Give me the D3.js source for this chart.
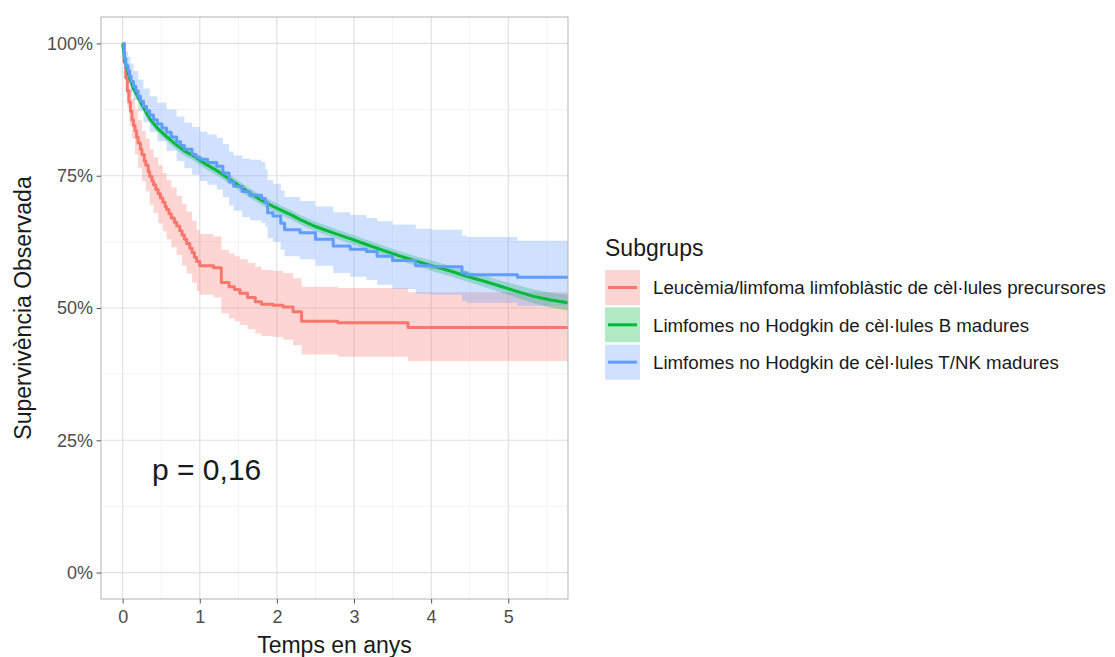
<!DOCTYPE html>
<html>
<head>
<meta charset="utf-8">
<script src="https://cdn.jsdelivr.net/npm/d3@7"></script>
<style>
  body { margin: 0; background: #fff; }
  svg { font-family: "Liberation Sans", Arial, sans-serif; }
</style>
</head>
<body>
<svg id="chart"></svg>
<script>
// group labels
const groups = [
  'Leucèmia/limfoma limfoblàstic de cèl·lules precursores',
  'Limfomes no Hodgkin de cèl·lules B madures',
  'Limfomes no Hodgkin de cèl·lules T/NK madures'
]

// Leucèmia / limfoma limfoblàstic: curve
const leukTime = [0, 0.02, 0.04, 0.06, 0.08, 0.10, 0.12, 0.14, 0.16, 0.18, 0.20, 0.23, 0.25, 0.28, 0.30, 0.33, 0.35, 0.38, 0.40, 0.43, 0.46, 0.49, 0.52, 0.55, 0.57, 0.60, 0.63, 0.67, 0.70, 0.74, 0.77, 0.80, 0.83, 0.87, 0.90, 0.93, 0.96, 1.00, 1.18, 1.28, 1.38, 1.45, 1.52, 1.62, 1.72, 1.80, 1.95, 2.08, 2.21, 2.32, 2.79, 3.70, 5.775]
const leukSurv = [1, 0.965, 0.935, 0.91, 0.89, 0.872, 0.856, 0.845, 0.835, 0.823, 0.812, 0.80, 0.79, 0.778, 0.77, 0.758, 0.749, 0.74, 0.733, 0.724, 0.716, 0.708, 0.70, 0.692, 0.686, 0.678, 0.67, 0.662, 0.655, 0.646, 0.638, 0.63, 0.622, 0.613, 0.605, 0.596, 0.588, 0.58, 0.576, 0.548, 0.54, 0.535, 0.528, 0.52, 0.512, 0.507, 0.505, 0.502, 0.493, 0.475, 0.472, 0.463, 0.463]
// band
const leukBandTime = [0, 0.03, 0.06, 0.09, 0.12, 0.16, 0.20, 0.25, 0.30, 0.35, 0.40, 0.46, 0.52, 0.57, 0.63, 0.70, 0.77, 0.83, 0.90, 0.96, 1.00, 1.18, 1.28, 1.38, 1.45, 1.52, 1.62, 1.72, 1.80, 1.95, 2.08, 2.21, 2.32, 2.79, 3.70, 5.775]
const leukLower = [1, 0.93, 0.88, 0.845, 0.82, 0.79, 0.765, 0.74, 0.72, 0.695, 0.68, 0.66, 0.645, 0.63, 0.615, 0.60, 0.58, 0.565, 0.548, 0.532, 0.525, 0.52, 0.49, 0.48, 0.475, 0.468, 0.46, 0.452, 0.447, 0.445, 0.44, 0.43, 0.412, 0.408, 0.40, 0.40]
const leukUpper = [1, 0.97, 0.94, 0.915, 0.895, 0.875, 0.855, 0.835, 0.82, 0.80, 0.785, 0.77, 0.755, 0.742, 0.728, 0.712, 0.697, 0.682, 0.665, 0.648, 0.64, 0.635, 0.61, 0.603, 0.598, 0.592, 0.585, 0.578, 0.572, 0.57, 0.566, 0.556, 0.54, 0.538, 0.53, 0.53]

// Limfomes no Hodgkin B madures
const bTime = [0, 0.03, 0.07, 0.10, 0.14, 0.20, 0.27, 0.35, 0.45, 0.57, 0.70, 0.80, 0.90, 1.00, 1.10, 1.22, 1.33, 1.44, 1.55, 1.65, 1.76, 1.87, 1.98, 2.08, 2.20, 2.30, 2.50, 2.73, 2.95, 3.16, 3.38, 3.60, 3.80, 4.03, 4.25, 4.46, 4.70, 4.90, 5.10, 5.33, 5.55, 5.775]
const bSurv = [1, 0.965, 0.945, 0.93, 0.915, 0.898, 0.879, 0.858, 0.84, 0.824, 0.808, 0.797, 0.789, 0.779, 0.77, 0.76, 0.749, 0.738, 0.727, 0.717, 0.707, 0.698, 0.69, 0.683, 0.675, 0.667, 0.654, 0.642, 0.631, 0.62, 0.609, 0.598, 0.589, 0.579, 0.57, 0.56, 0.55, 0.541, 0.532, 0.522, 0.515, 0.51]
const bLower = [1, 0.958, 0.937, 0.922, 0.907, 0.89, 0.871, 0.85, 0.832, 0.815, 0.799, 0.788, 0.78, 0.77, 0.761, 0.751, 0.74, 0.729, 0.718, 0.708, 0.698, 0.689, 0.681, 0.674, 0.666, 0.658, 0.645, 0.633, 0.622, 0.611, 0.60, 0.589, 0.58, 0.569, 0.56, 0.55, 0.539, 0.53, 0.52, 0.509, 0.501, 0.495]
const bUpper = [1, 0.972, 0.953, 0.938, 0.923, 0.906, 0.887, 0.866, 0.848, 0.833, 0.817, 0.806, 0.798, 0.788, 0.779, 0.769, 0.758, 0.747, 0.736, 0.726, 0.716, 0.707, 0.699, 0.692, 0.684, 0.676, 0.663, 0.651, 0.64, 0.629, 0.618, 0.607, 0.598, 0.589, 0.58, 0.57, 0.561, 0.552, 0.544, 0.535, 0.529, 0.525]

// Limfomes no Hodgkin T/NK madures: curve
const tnkTime = [0, 0.02, 0.04, 0.07, 0.09, 0.11, 0.14, 0.17, 0.20, 0.23, 0.27, 0.31, 0.35, 0.40, 0.45, 0.51, 0.57, 0.63, 0.70, 0.75, 0.80, 0.90, 0.95, 1.00, 1.10, 1.22, 1.30, 1.38, 1.44, 1.55, 1.65, 1.80, 1.85, 1.88, 1.95, 2.05, 2.10, 2.30, 2.50, 2.73, 2.95, 3.16, 3.30, 3.50, 3.80, 4.00, 4.40, 4.46, 5.12, 5.775]
const tnkSurv = [1, 0.972, 0.958, 0.948, 0.938, 0.928, 0.919, 0.91, 0.90, 0.891, 0.881, 0.873, 0.865, 0.856, 0.848, 0.84, 0.832, 0.823, 0.814, 0.807, 0.80, 0.79, 0.785, 0.781, 0.775, 0.768, 0.755, 0.738, 0.73, 0.72, 0.713, 0.707, 0.70, 0.68, 0.674, 0.66, 0.648, 0.642, 0.63, 0.617, 0.611, 0.607, 0.598, 0.59, 0.58, 0.578, 0.566, 0.563, 0.558, 0.558]
// band
const tnkBandTime = [0, 0.03, 0.07, 0.10, 0.14, 0.20, 0.27, 0.35, 0.45, 0.57, 0.70, 0.80, 0.90, 1.00, 1.10, 1.22, 1.30, 1.38, 1.44, 1.55, 1.65, 1.80, 1.85, 1.88, 1.95, 2.05, 2.10, 2.30, 2.50, 2.73, 2.95, 3.16, 3.30, 3.50, 3.80, 4.00, 4.40, 4.46, 5.12, 5.775]
const tnkLower = [1, 0.948, 0.925, 0.908, 0.893, 0.872, 0.851, 0.833, 0.815, 0.797, 0.778, 0.764, 0.752, 0.74, 0.733, 0.724, 0.71, 0.694, 0.684, 0.672, 0.666, 0.661, 0.654, 0.632, 0.625, 0.61, 0.598, 0.592, 0.58, 0.566, 0.559, 0.553, 0.544, 0.536, 0.527, 0.525, 0.513, 0.51, 0.504, 0.502]
const tnkUpper = [1, 0.985, 0.975, 0.962, 0.948, 0.932, 0.915, 0.9, 0.888, 0.875, 0.862, 0.85, 0.842, 0.833, 0.828, 0.822, 0.81, 0.796, 0.788, 0.782, 0.78, 0.776, 0.762, 0.742, 0.735, 0.722, 0.71, 0.702, 0.692, 0.681, 0.676, 0.67, 0.664, 0.658, 0.65, 0.648, 0.637, 0.634, 0.627, 0.626]

const xTicks = [0, 1, 2, 3, 4, 5]
const xMinor = [0.5, 1.5, 2.5, 3.5, 4.5, 5.5]
const yTicks = [0, 0.25, 0.5, 0.75, 1]
const yMinor = [0.125, 0.375, 0.625, 0.875]
const pValue = 'p = 0,16'

const colors = ['#F8766D', '#00BA38', '#619CFF']

const width = 1115, height = 657
const panel = { left: 101, right: 568, top: 17, bottom: 599 }

const svg = d3.select('#chart')
  .attr('width', width)
  .attr('height', height)

// scales
const x = d3.scaleLinear()
  .domain([-0.281, 5.775])
  .range([panel.left, panel.right])

const y = d3.scaleLinear()
  .domain([-0.05, 1.05])
  .range([panel.bottom, panel.top])

// grid
const grid = svg.append('g')
grid.selectAll('.xminor').data(xMinor).join('line')
  .attr('x1', d => x(d)).attr('x2', d => x(d))
  .attr('y1', panel.top).attr('y2', panel.bottom)
  .attr('stroke', '#efefef').attr('stroke-width', 0.7)
grid.selectAll('.yminor').data(yMinor).join('line')
  .attr('y1', d => y(d)).attr('y2', d => y(d))
  .attr('x1', panel.left).attr('x2', panel.right)
  .attr('stroke', '#efefef').attr('stroke-width', 0.7)
grid.selectAll('.xmajor').data(xTicks).join('line')
  .attr('x1', d => x(d)).attr('x2', d => x(d))
  .attr('y1', panel.top).attr('y2', panel.bottom)
  .attr('stroke', '#e0e0e0').attr('stroke-width', 1.2)
grid.selectAll('.ymajor').data(yTicks).join('line')
  .attr('y1', d => y(d)).attr('y2', d => y(d))
  .attr('x1', panel.left).attr('x2', panel.right)
  .attr('stroke', '#e0e0e0').attr('stroke-width', 1.2)

svg.append('clipPath').attr('id', 'clip')
  .append('rect')
  .attr('x', panel.left).attr('y', panel.top)
  .attr('width', panel.right - panel.left)
  .attr('height', panel.bottom - panel.top)

// B group looks like a smooth curve (many small steps), the others show their steps
const series = [
  { time: leukTime, surv: leukSurv, bandTime: leukBandTime, lower: leukLower, upper: leukUpper, curve: d3.curveStepAfter },
  { time: bTime, surv: bSurv, bandTime: bTime, lower: bLower, upper: bUpper, curve: d3.curveLinear },
  { time: tnkTime, surv: tnkSurv, bandTime: tnkBandTime, lower: tnkLower, upper: tnkUpper, curve: d3.curveStepAfter }
]

const plot = svg.append('g').attr('clip-path', 'url(#clip)')

// confidence bands
series.forEach((s, i) => {
  const band = d3.area()
    .curve(s.curve)
    .x(d => x(d.t))
    .y0(d => y(d.lo))
    .y1(d => y(d.hi))
  const pts = s.bandTime.map((t, j) => ({ t: t, lo: s.lower[j], hi: s.upper[j] }))
  plot.append('path')
    .datum(pts)
    .attr('d', band)
    .attr('fill', colors[i])
    .attr('fill-opacity', 0.3)
})

// survival curves
series.forEach((s, i) => {
  const line = d3.line()
    .curve(s.curve)
    .x(d => x(d.t))
    .y(d => y(d.s))
  const pts = s.time.map((t, j) => ({ t: t, s: s.surv[j] }))
  plot.append('path')
    .datum(pts)
    .attr('d', line)
    .attr('fill', 'none')
    .attr('stroke', colors[i])
    .attr('stroke-width', 3)
    .attr('stroke-linejoin', 'round')
})

// panel border
svg.append('rect')
  .attr('x', panel.left).attr('y', panel.top)
  .attr('width', panel.right - panel.left)
  .attr('height', panel.bottom - panel.top)
  .attr('fill', 'none')
  .attr('stroke', '#b3b3b3')
  .attr('stroke-width', 1)

// axes
const yAxis = svg.append('g')
  .attr('transform', `translate(${panel.left},0)`)
  .call(d3.axisLeft(y).tickValues(yTicks).tickFormat(d3.format('.0%')).tickSize(4.5).tickPadding(3.5))
yAxis.select('.domain').remove()

const xAxis = svg.append('g')
  .attr('transform', `translate(0,${panel.bottom})`)
  .call(d3.axisBottom(x).tickValues(xTicks).tickFormat(d3.format('d')).tickSize(4.5).tickPadding(7))
xAxis.select('.domain').remove()

svg.selectAll('.tick line').attr('stroke', '#555').attr('stroke-width', 1)
svg.selectAll('.tick text')
  .attr('fill', '#4d4d4d')
  .style('font-size', '18px')
  .style('font-family', '"Liberation Sans", Arial, sans-serif')

// axis titles
svg.append('text')
  .attr('x', (panel.left + panel.right) / 2)
  .attr('y', 653)
  .attr('text-anchor', 'middle')
  .style('font-size', '23px')
  .attr('fill', '#1a1a1a')
  .text('Temps en anys')

svg.append('text')
  .attr('transform', `translate(31,${(panel.top + panel.bottom) / 2}) rotate(-90)`)
  .attr('text-anchor', 'middle')
  .style('font-size', '23px')
  .attr('fill', '#1a1a1a')
  .text('Supervivència Observada')

// p-value
svg.append('text')
  .attr('x', 152)
  .attr('y', 480)
  .style('font-size', '30px')
  .attr('fill', '#1a1a1a')
  .text(pValue)

// legend
const legend = svg.append('g')
legend.append('text')
  .attr('x', 605)
  .attr('y', 256)
  .style('font-size', '23px')
  .attr('fill', '#1a1a1a')
  .text('Subgrups')

const keyY = d3.scaleBand()
  .domain(groups)
  .range([270, 382])

groups.forEach((g, i) => {
  const top = keyY(g)
  const h = 35
  legend.append('rect')
    .attr('x', 605).attr('y', top)
    .attr('width', 35).attr('height', h)
    .attr('fill', colors[i]).attr('fill-opacity', 0.3)
  legend.append('line')
    .attr('x1', 608).attr('x2', 637)
    .attr('y1', top + h / 2).attr('y2', top + h / 2)
    .attr('stroke', colors[i]).attr('stroke-width', 3)
  legend.append('text')
    .attr('x', 653)
    .attr('y', top + h / 2)
    .attr('dy', '0.36em')
    .style('font-size', '18.7px')
    .attr('fill', '#1a1a1a')
    .text(g)
})
</script>
</body>
</html>
